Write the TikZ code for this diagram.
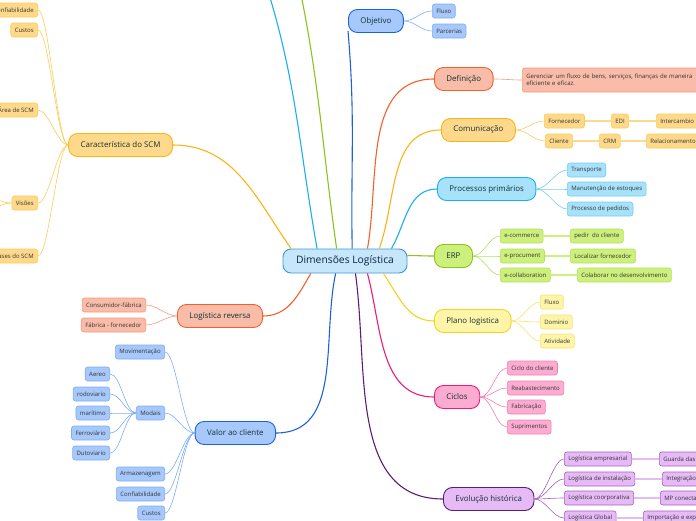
\documentclass[tikz,border=0pt]{standalone}
\usepackage{fontspec}
\setmainfont{Open Sans}
\usetikzlibrary{
    calc,
    positioning
}
\definecolor{rootfill}{HTML}{C6E7FA}
\definecolor{rootline}{HTML}{3E95DA}
\definecolor{roottext}{HTML}{0C2348}
\definecolor{topictext}{HTML}{123232}
\definecolor{leaftext}{HTML}{333333}
\definecolor{bluefill}{HTML}{A6C8FB}
\definecolor{blueline}{HTML}{1E62D9}
\definecolor{blueleaf}{HTML}{7FADF3}
\definecolor{redfill}{HTML}{F8BCA9}
\definecolor{redline}{HTML}{F4602C}
\definecolor{redleaf}{HTML}{F49B80}
\definecolor{orangefill}{HTML}{FED98B}
\definecolor{orangeline}{HTML}{F9B416}
\definecolor{orangeleaf}{HTML}{FCCB55}
\definecolor{cyanfill}{HTML}{A8E1FA}
\definecolor{cyanline}{HTML}{19AFF0}
\definecolor{cyanleaf}{HTML}{72CEF5}
\definecolor{greenfill}{HTML}{CDEF7C}
\definecolor{greenline}{HTML}{8CC41B}
\definecolor{greenleaf}{HTML}{B5DF5E}
\definecolor{yellowfill}{HTML}{FFF5A9}
\definecolor{yellowline}{HTML}{F2D41C}
\definecolor{yellowleaf}{HTML}{F6E36C}
\definecolor{pinkfill}{HTML}{FBACD0}
\definecolor{pinkline}{HTML}{EE1B79}
\definecolor{pinkleaf}{HTML}{F57DB1}
\definecolor{purplefill}{HTML}{E6BAF5}
\definecolor{purpleline}{HTML}{5E1B7B}
\definecolor{purpleleaf}{HTML}{A560BD}
\tikzset{
    % Box styles
    root box/.style={
        draw=rootline,
        fill=rootfill,
        line width=0.9pt,
        rounded corners=8pt,
        minimum height=24pt,
        minimum width=124pt,
        inner xsep=10pt,
        text=roottext,
        font=\fontsize{10.3}{12}\selectfont
    },
    topic box/.style 2 args={
        draw=#2,
        fill=#1,
        line width=0.9pt,
        rounded corners=9pt,
        minimum height=23pt,
        inner xsep=12pt,
        text=topictext,
        font=\fontsize{7.9}{9.5}\selectfont
    },
    leaf box/.style 2 args={
        draw=#2,
        fill=#1,
        line width=0.6pt,
        rounded corners=2.5pt,
        minimum height=14pt,
        inner xsep=4pt,
        inner ysep=0pt,
        text=leaftext,
        font=\fontsize{6}{7.2}\selectfont
    },
    note box/.style 2 args={
        leaf box={#1}{#2},
        minimum height=24pt,
        text width=176pt,
        align=left
    },
    % Line styles
    topic line/.style={line width=1.1pt, #1},
    leaf line/.style={line width=0.6pt, #1},
    chain line/.style={line width=1.6pt, #1},
    leaf link/.style={out=0, in=180, out distance=11pt, in distance=11pt},
    back link/.style={out=180, in=0, out distance=11pt, in distance=11pt}
}

\begin{document}
\begin{tikzpicture}[x=1pt, y=-1pt]
    \useasboundingbox (0,0) rectangle (696,520);
    \clip (0,0) rectangle (696,520);

    % ends of branches that leave the page
    \coordinate (hid cyan) at (263,-25);
    \coordinate (hid green) at (297,-25);
    \coordinate (vis a) at (-15,197);
    \coordinate (vis b) at (-15,210);

    \node[root box] (dim) at (345,261) {Dimensões Logística};

    % right side
    \node[topic box={bluefill}{blueline}, anchor=west] (obj) at (348,21) {Objetivo};
    \node[topic box={redfill}{redline}, anchor=west] (def) at (434,79) {Definição};
    \node[topic box={orangefill}{orangeline}, anchor=west] (com) at (441,130) {Comunicação};
    \node[topic box={cyanfill}{cyanline}, anchor=west] (proc) at (437,189) {Processos primários};
    \node[topic box={greenfill}{greenline}, anchor=west] (erp) at (434,256) {ERP};
    \node[topic box={yellowfill}{yellowline}, anchor=west] (plano) at (434,321) {Plano logistica};
    \node[topic box={pinkfill}{pinkline}, anchor=west] (ciclos) at (434,397) {Ciclos};
    \node[topic box={purplefill}{purpleline}, anchor=west] (evol) at (443,499) {Evolução histórica};

    % left side
    \node[topic box={orangefill}{orangeline}, anchor=east] (carac) at (173,145) {Característica do SCM};
    \node[topic box={redfill}{redline}, anchor=east] (rev) at (263,316) {Logística reversa};
    \node[topic box={bluefill}{blueline}, anchor=east] (valor) at (276,433) {Valor ao cliente};

    % leaves
    \node[leaf box={bluefill}{blueleaf}, anchor=west] (flux1) at (432,11) {Fluxo};
    \node[leaf box={bluefill}{blueleaf}, anchor=west] (parc) at (432,31) {Parcerias};

    \node[note box={redfill}{redleaf}, anchor=west] (note) at (522,80) {Gerenciar um fluxo de bens, serviços, finanças de maneira\\eficiente e eficaz.};

    \node[leaf box={orangefill}{orangeleaf}, anchor=west] (forn) at (544,121) {Fornecedor};
    \node[leaf box={orangefill}{orangeleaf}, anchor=west] (edi) at (611,121) {EDI};
    \node[leaf box={orangefill}{orangeleaf}, anchor=west] (inter) at (656,121) {Intercambio};
    \node[leaf box={orangefill}{orangeleaf}, anchor=west] (cli) at (545,141) {Cliente};
    \node[leaf box={orangefill}{orangeleaf}, anchor=west] (crm) at (599,141) {CRM};
    \node[leaf box={orangefill}{orangeleaf}, anchor=west] (rel) at (646,141) {Relacionamento};

    \node[leaf box={cyanfill}{cyanleaf}, anchor=west] (transp) at (567,170) {Transporte};
    \node[leaf box={cyanfill}{cyanleaf}, anchor=west] (manut) at (567,189) {Manutenção de estoques};
    \node[leaf box={cyanfill}{cyanleaf}, anchor=west] (pedidos) at (567,209) {Processo de pedidos};

    \node[leaf box={greenfill}{greenleaf}, anchor=west] (ecom) at (500,236) {e-commerce};
    \node[leaf box={greenfill}{greenleaf}, anchor=west] (eproc) at (500,256) {e-procument};
    \node[leaf box={greenfill}{greenleaf}, anchor=west] (ecol) at (500,275) {e-collaboration};
    \node[leaf box={greenfill}{greenleaf}, anchor=west] (pedir) at (570,236) {pedir\ \ do cliente};
    \node[leaf box={greenfill}{greenleaf}, anchor=west] (local) at (570,256) {Localizar fornecedor};
    \node[leaf box={greenfill}{greenleaf}, anchor=west] (colab) at (577,275) {Colaborar no desenvolvimento};

    \node[leaf box={yellowfill}{yellowleaf}, anchor=west] (flux2) at (540,302) {Fluxo};
    \node[leaf box={yellowfill}{yellowleaf}, anchor=west] (dom) at (540,322) {Dominio};
    \node[leaf box={yellowfill}{yellowleaf}, anchor=west] (ativ) at (540,341) {Atividade};

    \node[leaf box={pinkfill}{pinkleaf}, anchor=west] (ciclo) at (507,368) {Ciclo do cliente};
    \node[leaf box={pinkfill}{pinkleaf}, anchor=west] (reab) at (507,388) {Reabastecimento};
    \node[leaf box={pinkfill}{pinkleaf}, anchor=west] (fabr) at (507,407) {Fabricação};
    \node[leaf box={pinkfill}{pinkleaf}, anchor=west] (supr) at (507,427) {Suprimentos};

    \node[leaf box={purplefill}{purpleleaf}, anchor=west] (lemp) at (564,459) {Logística empresarial};
    \node[leaf box={purplefill}{purpleleaf}, anchor=west] (linst) at (564,479) {Logística de instalação};
    \node[leaf box={purplefill}{purpleleaf}, anchor=west] (lcorp) at (564,498) {Logística coorporativa};
    \node[leaf box={purplefill}{purpleleaf}, anchor=west] (lglob) at (564,518) {Logística Global};
    \node[leaf box={purplefill}{purpleleaf}, anchor=west] (guarda) at (659,459) {Guarda das};
    \node[leaf box={purplefill}{purpleleaf}, anchor=west] (integ) at (662,479) {Integração};
    \node[leaf box={purplefill}{purpleleaf}, anchor=west] (mpcon) at (660,498) {MP conecta};
    \node[leaf box={purplefill}{purpleleaf}, anchor=west] (import) at (643,518) {Importação e exp};

    \node[leaf box={orangefill}{orangeleaf}, anchor=east] (conf1) at (38,10) {Confiabilidade};
    \node[leaf box={orangefill}{orangeleaf}, anchor=east] (custo1) at (38,30) {Custos};
    \node[leaf box={orangefill}{orangeleaf}, anchor=east] (area) at (38,110) {Área de SCM};
    \node[leaf box={orangefill}{orangeleaf}, anchor=east] (visoes) at (38,203) {Visões};
    \node[leaf box={orangefill}{orangeleaf}, anchor=east] (fases) at (38,256) {Fases do SCM};

    \node[leaf box={redfill}{redleaf}, anchor=east] (consum) at (146,305) {Consumidor-fábrica};
    \node[leaf box={redfill}{redleaf}, anchor=east] (fabforn) at (146,325) {Fábrica - fornecedor};

    \node[leaf box={bluefill}{blueleaf}, anchor=east] (movim) at (165,352) {Movimentação};
    \node[leaf box={bluefill}{blueleaf}, anchor=east] (modais) at (165,413) {Modais};
    \node[leaf box={bluefill}{blueleaf}, anchor=east] (armaz) at (165,474) {Armazenagem};
    \node[leaf box={bluefill}{blueleaf}, anchor=east] (conf2) at (165,494) {Confiabilidade};
    \node[leaf box={bluefill}{blueleaf}, anchor=east] (custo2) at (165,513) {Custos};
    \node[leaf box={bluefill}{blueleaf}, anchor=east] (aereo) at (110,374) {Aereo};
    \node[leaf box={bluefill}{blueleaf}, anchor=east] (rodo) at (110,394) {rodoviario};
    \node[leaf box={bluefill}{blueleaf}, anchor=east] (mari) at (110,413) {marítimo};
    \node[leaf box={bluefill}{blueleaf}, anchor=east] (ferro) at (110,433) {Ferroviário};
    \node[leaf box={bluefill}{blueleaf}, anchor=east] (duto) at (110,453) {Dutoviario};

    % topic lines
    \draw[topic line=orangeline] (dim.167) to[out=125, in=0] (carac.east);
    \draw[topic line=cyanline] (dim.156) to[out=100, in=-72] (hid cyan);
    \draw[topic line=greenline] (dim.124) to[out=98, in=-78] (hid green);
    \draw[topic line=blueline] (dim.60) to[out=91, in=-85] (obj.200);
    \draw[topic line=redline] (dim.29) to[out=80, in=180] (def.west);
    \draw[topic line=orangeline] (dim.20) to[out=70, in=180] (com.west);
    \draw[topic line=cyanline] (dim.15) to[out=60, in=180] (proc.west);
    \draw[topic line=greenline] (dim.5) to[out=0, in=180] (erp.west);
    \draw[topic line=yellowline] (dim.-18) to[out=-55, in=180] (plano.west);
    \draw[topic line=pinkline] (dim.-29) to[out=-75, in=180] (ciclos.west);
    \draw[topic line=purpleline] (dim.-50) to[out=-82, in=180] (evol.west);
    \draw[topic line=blueline] (dim.233) to[out=-102, in=0] (valor.east);
    \draw[topic line=redline] (dim.200) to[out=-120, in=0] (rev.east);

    % leaf lines
    \foreach \leaf in {flux1, parc}
        \draw[leaf line=blueleaf] (obj.east) to[leaf link] (\leaf.west);
    \draw[leaf line=redleaf] (def.east) to[leaf link] (note.west);
    \foreach \leaf in {forn, cli}
        \draw[leaf line=orangeleaf] (com.east) to[leaf link] (\leaf.west);
    \draw[chain line=orangefill] (forn) -- (edi) -- (inter);
    \draw[chain line=orangefill] (cli) -- (crm) -- (rel);
    \foreach \leaf in {transp, manut, pedidos}
        \draw[leaf line=cyanleaf] (proc.east) to[leaf link] (\leaf.west);
    \foreach \leaf in {ecom, eproc, ecol}
        \draw[leaf line=greenleaf] (erp.east) to[leaf link] (\leaf.west);
    \draw[chain line=greenfill] (ecom) -- (pedir);
    \draw[chain line=greenfill] (eproc) -- (local);
    \draw[chain line=greenfill] (ecol) -- (colab);
    \foreach \leaf in {flux2, dom, ativ}
        \draw[leaf line=yellowleaf] (plano.east) to[leaf link] (\leaf.west);
    \foreach \leaf in {ciclo, reab, fabr, supr}
        \draw[leaf line=pinkleaf] (ciclos.east) to[leaf link] (\leaf.west);
    \foreach \leaf in {lemp, linst, lcorp, lglob}
        \draw[leaf line=purpleleaf] (evol.east) to[leaf link] (\leaf.west);
    \draw[chain line=purplefill] (lemp) -- (guarda);
    \draw[chain line=purplefill] (linst) -- (integ);
    \draw[chain line=purplefill] (lcorp) -- (mpcon);
    \draw[chain line=purplefill] (lglob) -- (import);
    \foreach \leaf in {conf1, custo1, area, visoes, fases}
        \draw[leaf line=orangeleaf] (carac.west) to[back link] (\leaf.east);
    \foreach \leaf in {vis a, vis b}
        \draw[leaf line=orangeleaf] (visoes.west) to[back link] (\leaf);
    \foreach \leaf in {consum, fabforn}
        \draw[leaf line=redleaf] (rev.west) to[back link] (\leaf.east);
    \foreach \leaf in {movim, modais, armaz, conf2, custo2}
        \draw[leaf line=blueleaf] (valor.west) to[back link] (\leaf.east);
    \foreach \leaf in {aereo, rodo, mari, ferro, duto}
        \draw[leaf line=blueleaf] (modais.west) to[back link] (\leaf.east);
\end{tikzpicture}
\end{document}
